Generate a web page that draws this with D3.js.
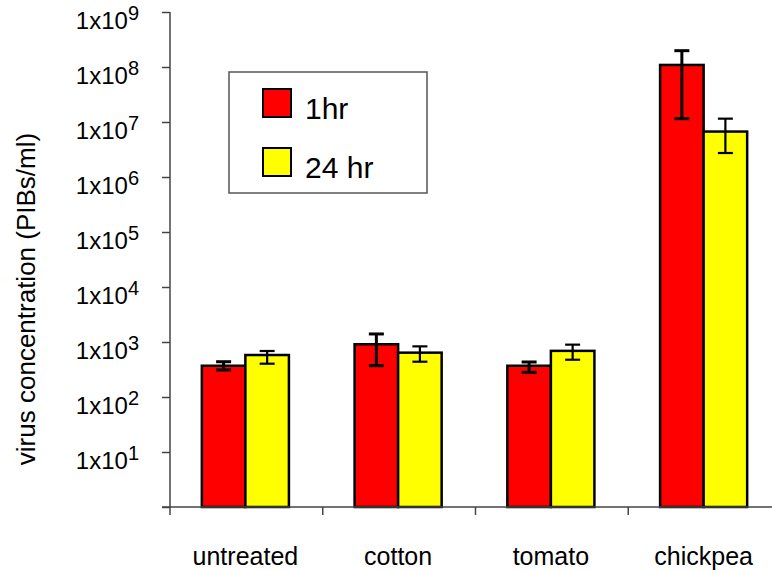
<!DOCTYPE html>
<html>
<head>
<meta charset="utf-8">
<script src="https://cdn.jsdelivr.net/npm/d3@7"></script>
<style>
  body { margin: 0; background: #fff; }
  text { font-family: Arial, "Liberation Sans", sans-serif; fill: #000; }
</style>
</head>
<body>
<svg id="chart" width="772" height="571"></svg>
<script>
// categories and series
const categories = ['untreated', 'cotton', 'tomato', 'chickpea'];
const seriesNames = ['1hr', '24 hr'];
const seriesColors = ['#ff0000', '#ffff00'];

// 1 hr values (PIBs/ml) and error bar ends
const oneHr = [370, 910, 370, 1.09e8];
const oneHrHigh = [438, 1400, 433, 1.98e8];
const oneHrLow = [310, 371, 281, 1.15e7];

// 24 hr values and error bar ends
const dayHr = [580, 640, 690, 6.7e6];
const dayHrHigh = [686, 833, 895, 1.15e7];
const dayHrLow = [403, 438, 476, 2.73e6];

const tickExps = [1, 2, 3, 4, 5, 6, 7, 8, 9];

const svg = d3.select('#chart');

const x0 = d3.scaleBand()
  .domain(categories)
  .range([169, 780]);

const groupW = x0.bandwidth() * 0.57;
const x1 = d3.scaleBand()
  .domain(seriesNames)
  .range([(x0.bandwidth() - groupW) / 2, (x0.bandwidth() + groupW) / 2]);

const y = d3.scaleLog()
  .domain([1, 1e9])
  .range([507, 12]);

const rows = categories.map((c, i) => ({
  cat: c,
  vals: [
    { s: seriesNames[0], v: oneHr[i], hi: oneHrHigh[i], lo: oneHrLow[i], c: seriesColors[0], w: 3 },
    { s: seriesNames[1], v: dayHr[i], hi: dayHrHigh[i], lo: dayHrLow[i], c: seriesColors[1], w: 2.2 }
  ]
}));

// bars
const groups = svg.append('g')
  .selectAll('g')
  .data(rows)
  .join('g')
  .attr('transform', d => `translate(${x0(d.cat)},0)`);

groups.selectAll('rect')
  .data(d => d.vals)
  .join('rect')
  .attr('x', d => x1(d.s))
  .attr('y', d => y(d.v))
  .attr('width', x1.bandwidth())
  .attr('height', d => y(1) - y(d.v))
  .attr('fill', d => d.c)
  .attr('stroke', '#000')
  .attr('stroke-width', 2.5);

// error bars
const eb = groups.selectAll('g.err')
  .data(d => d.vals)
  .join('g')
  .attr('class', 'err')
  .attr('stroke', '#000')
  .attr('stroke-width', d => d.w);

const cx = d => x1(d.s) + x1.bandwidth() / 2;
eb.append('line')
  .attr('x1', cx).attr('x2', cx)
  .attr('y1', d => y(d.hi))
  .attr('y2', d => y(d.lo));
eb.append('line')
  .attr('x1', d => cx(d) - 7.5).attr('x2', d => cx(d) + 7.5)
  .attr('y1', d => y(d.hi)).attr('y2', d => y(d.hi));
eb.append('line')
  .attr('x1', d => cx(d) - 7.5).attr('x2', d => cx(d) + 7.5)
  .attr('y1', d => y(d.lo)).attr('y2', d => y(d.lo));

// y axis
const yAxis = svg.append('g')
  .attr('transform', 'translate(170,0)')
  .call(d3.axisLeft(y).tickValues([1].concat(tickExps.map(e => Math.pow(10, e)))).tickSize(8).tickFormat(''));
yAxis.select('.domain').remove();
yAxis.selectAll('.tick line').attr('stroke', '#444').attr('stroke-width', 1.5);
svg.append('line')
  .attr('x1', 170).attr('x2', 170)
  .attr('y1', y(1e9)).attr('y2', 515)
  .attr('stroke', '#444').attr('stroke-width', 1.5);

// y tick labels 1x10^n
const lab = svg.append('g')
  .selectAll('text')
  .data(tickExps)
  .join('text')
  .attr('x', 139)
  .attr('y', e => y(Math.pow(10, e)) + 17)
  .attr('text-anchor', 'end')
  .style('font-size', '24px');
lab.append('tspan').text('1x10');
lab.append('tspan')
  .attr('dy', -9)
  .style('font-size', '20px')
  .text(e => e);

// x axis
svg.append('line')
  .attr('x1', 162).attr('x2', 772)
  .attr('y1', y(1)).attr('y2', y(1))
  .attr('stroke', '#444').attr('stroke-width', 1.5);
svg.append('g')
  .selectAll('line')
  .data(categories.slice(1))
  .join('line')
  .attr('x1', d => x0(d) + 1).attr('x2', d => x0(d) + 1)
  .attr('y1', y(1)).attr('y2', 515)
  .attr('stroke', '#444').attr('stroke-width', 1.5);

svg.append('g')
  .selectAll('text')
  .data(categories)
  .join('text')
  .attr('x', d => x0(d) + x0.bandwidth() / 2)
  .attr('y', 565)
  .attr('text-anchor', 'middle')
  .style('font-size', '25px')
  .text(d => d);

// y title
svg.append('text')
  .attr('transform', 'translate(35,299) rotate(-90)')
  .attr('text-anchor', 'middle')
  .style('font-size', '26px')
  .text('virus concentration (PIBs/ml)');

// legend
const legend = svg.append('g');
legend.append('rect')
  .attr('x', 229).attr('y', 72)
  .attr('width', 198).attr('height', 121)
  .attr('fill', '#fff')
  .attr('stroke', '#555')
  .attr('stroke-width', 1.5);
const li = legend.selectAll('g.item')
  .data(seriesNames)
  .join('g')
  .attr('class', 'item')
  .attr('transform', (d, i) => `translate(263,${89 + i * 59})`);
li.append('rect')
  .attr('width', 28).attr('height', 28)
  .attr('fill', (d, i) => seriesColors[i])
  .attr('stroke', '#000')
  .attr('stroke-width', 2);
li.append('text')
  .attr('x', 42)
  .attr('y', 30)
  .style('font-size', '30px')
  .text(d => d);
</script>
</body>
</html>
